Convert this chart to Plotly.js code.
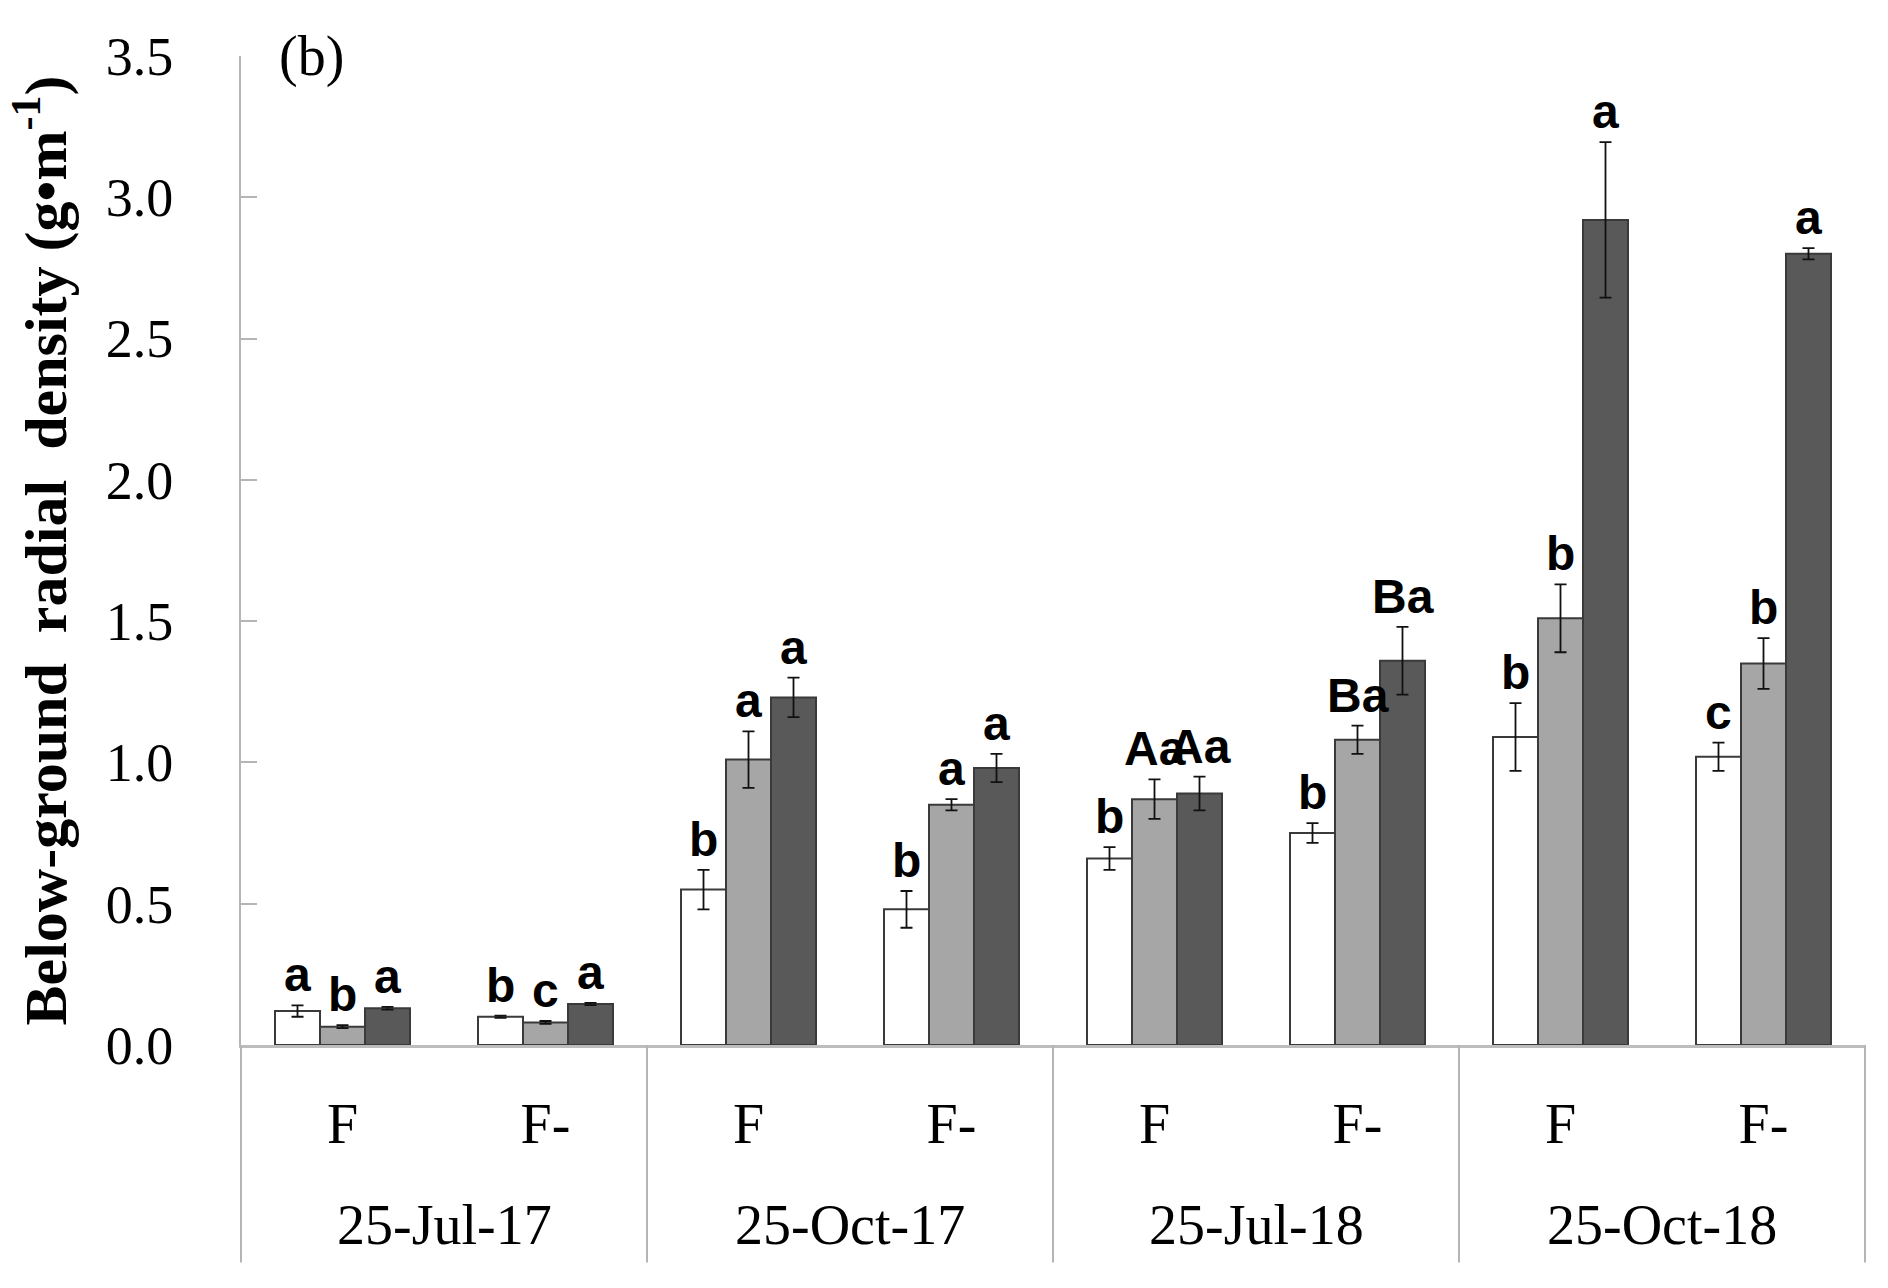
<!DOCTYPE html>
<html>
<head>
<meta charset="utf-8">
<script src="https://cdn.plot.ly/plotly-3.0.1.min.js"></script>
<style>html,body{margin:0;padding:0;background:#fff;}#chart{width:1888px;height:1288px;}</style>
</head>
<body>
<div id="chart"></div>
<script>
// ---- data ----
var dates = ['25-Jul-17', '25-Oct-17', '25-Jul-18', '25-Oct-18'];
var treatments = ['F', 'F-'];
var categories = ['25-Jul-17 F', '25-Jul-17 F-', '25-Oct-17 F', '25-Oct-17 F-', '25-Jul-18 F', '25-Jul-18 F-', '25-Oct-18 F', '25-Oct-18 F-'];
var tickLabels = ['F', 'F-', 'F', 'F-', 'F', 'F-', 'F', 'F-'];
var yTicks = [0, 0.5, 1.0, 1.5, 2.0, 2.5, 3.0, 3.5];

var whiteVals = [0.12, 0.10, 0.55, 0.48, 0.66, 0.75, 1.09, 1.02];
var whiteErr  = [0.02, 0.004, 0.07, 0.065, 0.04, 0.035, 0.12, 0.05];
var grayVals  = [0.065, 0.08, 1.01, 0.85, 0.87, 1.08, 1.51, 1.35];
var grayErr   = [0.005, 0.005, 0.10, 0.02, 0.07, 0.05, 0.12, 0.09];
var darkVals  = [0.13, 0.145, 1.23, 0.98, 0.89, 1.36, 2.92, 2.80];
var darkErr   = [0.005, 0.004, 0.07, 0.05, 0.06, 0.12, 0.275, 0.02];

var whiteLetters = ['a', 'b', 'b', 'b', 'b', 'b', 'b', 'c'];
var grayLetters  = ['b', 'c', 'a', 'a', 'Aa', 'Ba', 'b', 'b'];
var darkLetters  = ['a', 'a', 'a', 'a', 'Aa', 'Ba', 'a', 'a'];

// ---- styling ----
var BARGAP = 0.335;
var serif = 'Liberation Serif, Times New Roman, serif';
var sans = 'Liberation Sans, Arial, sans-serif';
var edge = '#3a3a3a';

function barTrace(name, vals, errs, color) {
  return {
    type: 'bar', name: name, x: categories, y: vals,
    marker: {color: color, line: {color: edge, width: 2}},
    error_y: {type: 'data', array: errs, visible: true, color: '#111', thickness: 1.8, width: 6},
    hoverinfo: 'y'
  };
}

var data = [
  barTrace('white', whiteVals, whiteErr, '#ffffff'),
  barTrace('gray', grayVals, grayErr, '#a6a6a6'),
  barTrace('dark', darkVals, darkErr, '#595959')
];

var annotations = [];
var bw = (1 - BARGAP) / 3;
var series = [[whiteVals, whiteErr, whiteLetters], [grayVals, grayErr, grayLetters], [darkVals, darkErr, darkLetters]];
series.forEach(function (s, si) {
  for (var i = 0; i < categories.length; i++) {
    annotations.push({
      xref: 'x', yref: 'y', x: i + (si - 1) * bw, y: s[0][i] + s[1][i],
      text: s[2][i], showarrow: false, yanchor: 'bottom', xanchor: 'center', yshift: 2,
      font: {family: sans, size: 48, color: '#000', weight: 'bold'}
    });
  }
});
// date labels (outer category level)
dates.forEach(function (d, k) {
  annotations.push({
    xref: 'x', yref: 'paper', x: 2 * k + 0.5, y: -0.182, text: d, showarrow: false,
    xanchor: 'center', yanchor: 'middle',
    font: {family: serif, size: 56, color: '#000'}
  });
});
// panel label
annotations.push({
  xref: 'paper', yref: 'paper', x: 0.022, y: 1.0, text: '(b)', showarrow: false,
  xanchor: 'left', yanchor: 'middle', font: {family: serif, size: 56, color: '#000'}
});

// divider lines between date groups
var shapes = [];
for (var k = 0; k <= dates.length; k++) {
  shapes.push({
    type: 'line', xref: 'paper', yref: 'paper', x0: k / dates.length, x1: k / dates.length,
    y0: 0, y1: -0.22, line: {color: '#b5b5b5', width: 2}
  });
}

var layout = {
  width: 1888, height: 1288,
  margin: {l: 241, r: 23, t: 56, b: 243},
  paper_bgcolor: '#fff', plot_bgcolor: '#fff',
  showlegend: false,
  barmode: 'group', bargap: BARGAP, bargroupgap: 0,
  xaxis: {
    type: 'category', categoryorder: 'array', categoryarray: categories,
    tickvals: categories, ticktext: tickLabels,
    range: [-0.5, 7.5], showline: true, linecolor: '#bdbdbd', linewidth: 3,
    ticks: '', showgrid: false, zeroline: false,
    tickfont: {family: serif, size: 56, color: '#000'},
    ticklabelstandoff: 28
  },
  yaxis: {
    range: [0, 3.5], tickvals: yTicks, tickformat: '.1f',
    showline: true, linecolor: '#b5b5b5', linewidth: 2,
    ticks: 'inside', ticklen: 16, tickcolor: '#b5b5b5', tickwidth: 2,
    showgrid: false, zeroline: false,
    tickfont: {family: serif, size: 54, color: '#000'},
    ticklabelstandoff: 55,
    title: {text: 'Below-ground  radial  density (g\u2022m<sup>-1</sup>)', standoff: 20,
            font: {family: serif, size: 60, color: '#000', weight: 'bold'}}
  },
  annotations: annotations,
  shapes: shapes
};

Plotly.newPlot('chart', data, layout, {displayModeBar: false, staticPlot: true});
</script>
</body>
</html>
